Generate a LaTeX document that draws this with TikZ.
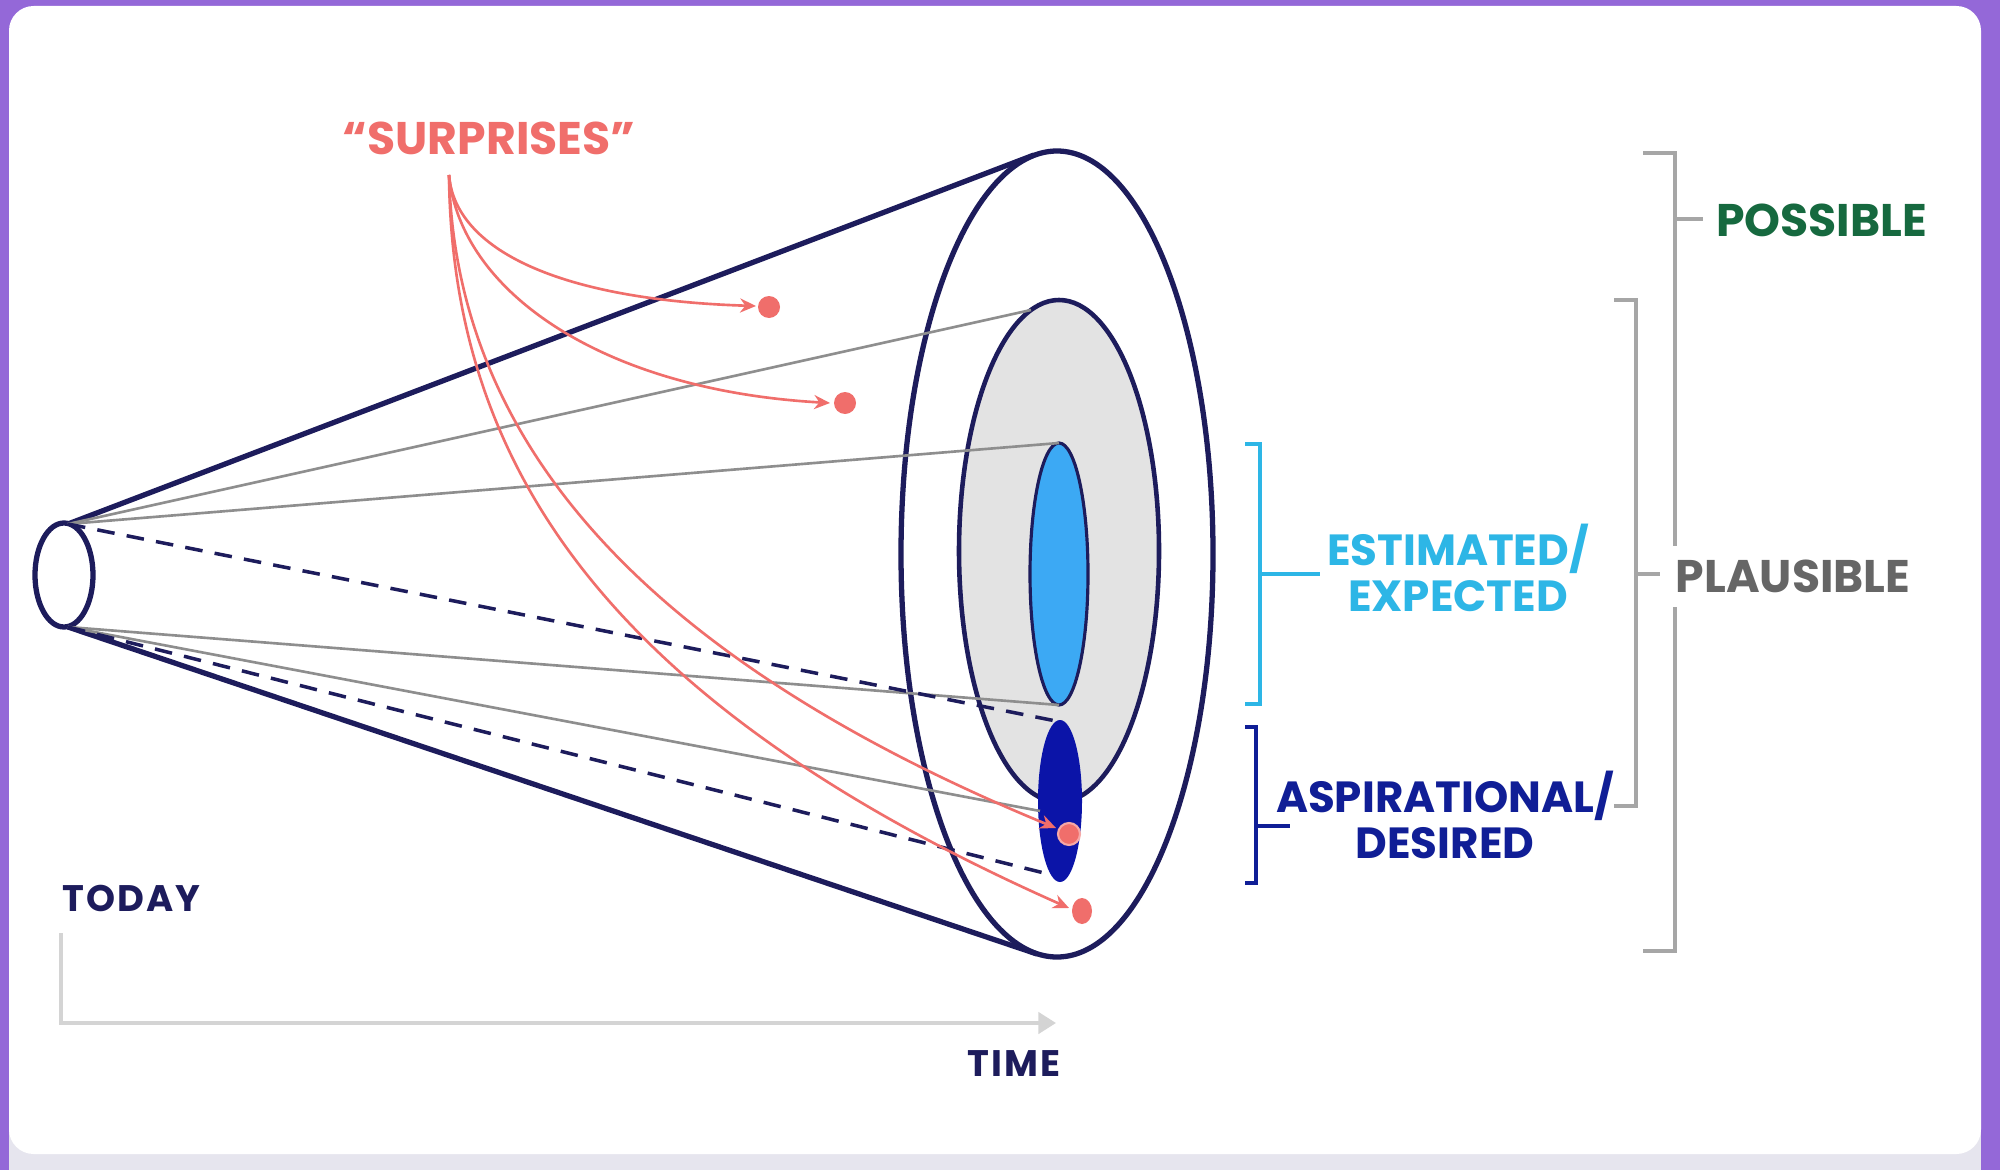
\documentclass[tikz,border=0pt]{standalone}
\usepackage{fontspec}
\setmainfont{Poppins}
\usetikzlibrary{arrows.meta}
\definecolor{navy}{HTML}{1D1C5C}
\definecolor{salmon}{HTML}{F06E6B}
\definecolor{ringgray}{HTML}{E3E3E3}
\definecolor{sky}{HTML}{3CA9F4}
\definecolor{deepblue}{HTML}{0B14A8}
\definecolor{cyantxt}{HTML}{2DB6E6}
\definecolor{greentxt}{HTML}{16693F}
\definecolor{graytxt}{HTML}{666666}
\definecolor{brgray}{HTML}{A6A6A6}
\definecolor{linegray}{HTML}{8E8E8E}
\definecolor{axisgray}{HTML}{D4D4D4}
\definecolor{framepurple}{HTML}{9468D8}
\definecolor{strip}{HTML}{E6E5EE}
\definecolor{aspblue}{HTML}{101E96}
\begin{document}
\begin{tikzpicture}[x={(0.01cm,0)},y={(0,-0.01cm)},
  cone/.style={navy, line width=1.5pt},
  ray/.style={linegray, line width=0.75pt},
  dashray/.style={navy, line width=1pt, dash pattern=on 5pt off 3.5pt},
  surp/.style={salmon, line width=0.75pt, -{Stealth[length=4.5pt,width=4pt]}},
  sdot/.style={fill=salmon},
  br/.style={line width=0.9pt},
  lbl/.style={font=\bfseries\fontsize{12.4}{13.2}\selectfont, align=center, inner sep=1pt},
  small/.style={font=\bfseries\fontsize{10.5}{12}\selectfont\addfontfeatures{LetterSpace=6}, inner sep=1pt}
]
\useasboundingbox (0,0) rectangle (2000,1170);
% frame
\fill[framepurple] (0,0) rectangle (2000,1170);
\fill[strip] (9,1080) rectangle (1981,1170);
\fill[white, rounded corners=7pt] (9,6) rectangle (1981,1154);

% key coordinates
\coordinate (st) at (68,524);
\coordinate (sb) at (68,627);
\coordinate (ot) at (1034,155);
\coordinate (ob) at (1037,954);
\coordinate (gt) at (1031,310);
\coordinate (lt) at (1059,443);
\coordinate (lb) at (1059,705);
\coordinate (dt) at (1056,721);
\coordinate (dl) at (1040,811);
\coordinate (dbl) at (1048,874);

% cone
\draw[cone] (64,575) ellipse [x radius=29, y radius=52];
\draw[cone] (st) -- (ot);
\draw[cone] (sb) -- (ob);
\draw[cone] (1057,554) ellipse [x radius=156, y radius=403];
\filldraw[fill=ringgray, draw=navy, line width=1.3pt] (1059,551) ellipse [x radius=100, y radius=251];
\filldraw[fill=sky, draw=navy, line width=0.9pt] (1059,574) ellipse [x radius=29, y radius=131];
\fill[deepblue] (1060,801) ellipse [x radius=22, y radius=81];

% rays
\draw[ray] (st) -- (gt);
\draw[ray] (st) -- (lt);
\draw[ray] (sb) -- (lb);
\draw[ray] (sb) -- (dl);
\draw[dashray] (st) -- (dt);
\draw[dashray] (sb) -- (dbl);

% surprises
\node[lbl, text=salmon, font=\bfseries\fontsize{13}{14}\selectfont] (surptxt) at (489,138) {“SURPRISES”};
\coordinate (s0) at (449,175);
\coordinate (ea) at (756,306);
\coordinate (eb) at (830,403);
\coordinate (ec) at (1056,828);
\coordinate (ed) at (1069,908);
\draw[surp] (s0) .. controls (455,250) and (560,300) .. (ea);
\draw[surp] (s0) .. controls (460,290) and (600,390) .. (eb);
\draw[surp] (s0) .. controls (455,410) and (600,640) .. (ec);
\draw[surp] (s0) .. controls (452,460) and (600,700) .. (ed);
\fill[sdot] (769,307) circle [radius=11];
\fill[sdot] (845,403) circle [radius=11];
\filldraw[fill=salmon, draw=salmon!60!white, line width=0.6pt] (1069,834) circle [radius=11];
\fill[sdot] (1082,911) ellipse [x radius=10, y radius=13];

% brackets
\draw[br, cyantxt] (1245,444) -- (1260,444) -- (1260,704) -- (1245,704);
\draw[br, cyantxt] (1260,574) -- (1320,574);
\draw[br, aspblue] (1245,727) -- (1256,727) -- (1256,883) -- (1245,883);
\draw[br, aspblue] (1256,826) -- (1290,826);
\draw[br, brgray] (1614,300) -- (1636,300) -- (1636,806) -- (1614,806);
\draw[br, brgray] (1636,574) -- (1660,574);
\draw[br, brgray] (1643,153) -- (1675,153) -- (1675,951) -- (1643,951);
\draw[br, brgray] (1675,219) -- (1703,219);

% labels
\node[lbl, text=greentxt, anchor=west, font=\bfseries\fontsize{13}{14}\selectfont] (poss) at (1712,220) {POSSIBLE};
\node[lbl, text=graytxt, anchor=west, fill=white, inner sep=4pt, font=\bfseries\fontsize{13}{14}\selectfont] (plaus) at (1661,576) {PLAUSIBLE};
\node[lbl, text=cyantxt] (est) at (1458,568) {ESTIMATED/\\EXPECTED};
\node[lbl, text=aspblue] (asp) at (1445,815) {ASPIRATIONAL/\\DESIRED};

% time axis
\node[small, text=navy, anchor=west] (today) at (58,898) {TODAY};
\node[small, text=navy] (time) at (1014,1064) {TIME};
\coordinate (ax0) at (61,933);
\coordinate (ax1) at (1056,1023);
\draw[axisgray, line width=1.1pt, -{Triangle[length=5pt,width=6pt]}] (ax0) |- (ax1);
\end{tikzpicture}
\end{document}
